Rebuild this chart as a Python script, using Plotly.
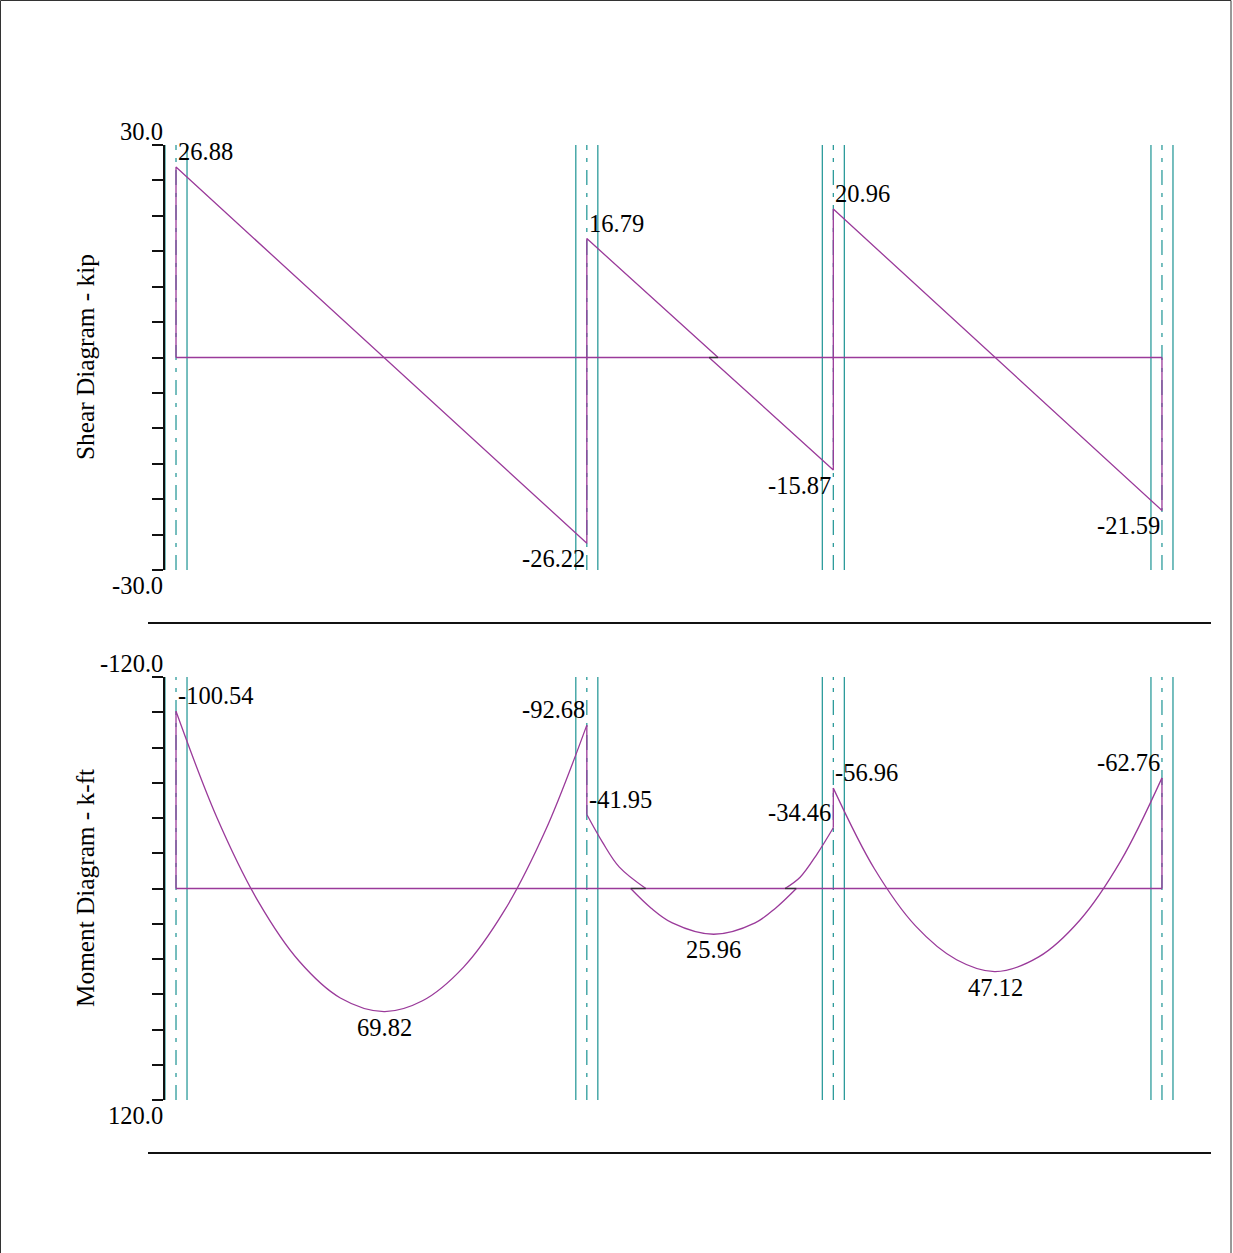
import plotly.graph_objects as go

# ---------------- data ----------------
support_ft = [0, 25, 40, 60]          # support centre lines (ft)
col_half_ft = 0.67                    # half column width (ft)

# shear (kip) at the ends of each span
shear_left = [26.88, 16.79, 20.96]
shear_right = [-26.22, -15.87, -21.59]
shear_zero_upper = [None, 32.99, None]   # where drawn upper part meets the baseline (span 2 kink)
shear_zero_lower = [None, 32.44, None]

# moment (k-ft) at the ends of each span and the span maxima
moment_left = [-100.54, -41.95, -56.96]
moment_right = [-92.68, -34.46, -62.76]
moment_max = [69.82, 25.96, 47.12]
moment_max_x = [12.66, 32.72, 49.85]

# moment curve
m1_x = [0, 2.5, 5, 7.5, 10, 12.66, 15, 17.5, 20, 22.5, 25]
m1_y = [-100.54, -40.0, 7.3, 41.3, 62.1, 69.82, 63.7, 44.6, 12.3, -33.3, -92.68]
m2a_x = [25, 25.95, 26.98, 28.59]
m2a_y = [-41.95, -26.3, -12.1, 0]
m2b_x = [27.67, 28.9, 30.2, 32.72, 35.24, 36.5, 37.75]
m2b_y = [0, 11.0, 19.5, 25.96, 19.5, 11.0, 0]
m2c_x = [37.06, 37.98, 39.02, 40]
m2c_y = [0, -6.4, -19.7, -34.46]
m3_x = [40, 42.5, 45, 47.5, 49.85, 52.5, 55, 57.5, 60]
m3_y = [-56.96, -11.2, 21.2, 40.4, 47.12, 38.8, 18.0, -15.8, -62.76]

shear_range = [-30, 30]
moment_range = [120, -120]
shear_ticks = ["30.0", "-30.0"]
moment_ticks = ["-120.0", "120.0"]

# ---------------- styling ----------------
W, H = 1233, 1253
PURPLE = "#9A3A9A"
TEAL = "#1B9393"
FONT = "Liberation Serif"
FS = 24.5
FS_TITLE = 25.3

def px_x(p):
    return p / W

def px_y(p):
    return 1 - p / H

fig = go.Figure()

line_p = dict(color=PURPLE, width=1.3)

# ---- shear diagram (x, y) ----
fig.add_trace(go.Scatter(x=[support_ft[0], support_ft[-1]], y=[0, 0], mode="lines",
                         line=line_p, xaxis="x", yaxis="y", hoverinfo="skip"))
sx, sy = [support_ft[0]], [0]
for i in range(3):
    a, b = support_ft[i], support_ft[i + 1]
    sx += [a]
    sy += [shear_left[i]]
    if shear_zero_upper[i] is not None:
        sx += [shear_zero_upper[i], None, shear_zero_lower[i]]
        sy += [0, None, 0]
    sx += [b]
    sy += [shear_right[i]]
sx += [support_ft[-1]]
sy += [0]
fig.add_trace(go.Scatter(x=sx, y=sy, mode="lines", line=line_p, xaxis="x", yaxis="y",
                         hoverinfo="skip", connectgaps=False))
fig.add_trace(go.Scatter(x=[shear_zero_lower[1], shear_zero_upper[1]], y=[0, 0], mode="lines",
                         line=dict(color="#333333", width=1.3), xaxis="x", yaxis="y", hoverinfo="skip"))

# ---- moment diagram (x2, y2) ----
fig.add_trace(go.Scatter(x=[support_ft[0], support_ft[-1]], y=[0, 0], mode="lines",
                         line=line_p, xaxis="x2", yaxis="y2", hoverinfo="skip"))
vx, vy = [], []
vx += [support_ft[0], support_ft[0], None]
vy += [0, moment_left[0], None]
for i in range(1, 3):
    vx += [support_ft[i], support_ft[i], None]
    vy += [moment_right[i - 1], moment_left[i], None]
vx += [support_ft[-1], support_ft[-1]]
vy += [moment_right[-1], 0]
fig.add_trace(go.Scatter(x=vx, y=vy, mode="lines", line=line_p, xaxis="x2", yaxis="y2",
                         hoverinfo="skip", connectgaps=False))
for xs, ys in [(m1_x, m1_y), (m2a_x, m2a_y), (m2b_x, m2b_y), (m2c_x, m2c_y), (m3_x, m3_y)]:
    fig.add_trace(go.Scatter(x=xs, y=ys, mode="lines",
                             line=dict(color=PURPLE, width=1.3, shape="spline", smoothing=1.0),
                             xaxis="x2", yaxis="y2", hoverinfo="skip"))
fig.add_trace(go.Scatter(x=[m2b_x[0], m2a_x[-1], None, m2c_x[0], m2b_x[-1]],
                         y=[0, 0, None, 0, 0], mode="lines",
                         line=dict(color="#333333", width=1.3), xaxis="x2", yaxis="y2",
                         hoverinfo="skip", connectgaps=False))

# ---- support lines ----
shapes = []
for xr, yr in [("x", "y domain"), ("x2", "y2 domain")]:
    for s in support_ft:
        for off, dash in [(-col_half_ft, "solid"), (0, "15px,8px,4px,8px"), (col_half_ft, "solid")]:
            shapes.append(dict(type="line", xref=xr, yref=yr, x0=s + off, x1=s + off, y0=0, y1=1,
                               line=dict(color=TEAL, width=1.2, dash=dash), layer="below"))

# separators
for yp in [623, 1153]:
    shapes.append(dict(type="line", xref="paper", yref="paper", x0=px_x(148), x1=px_x(1211),
                       y0=px_y(yp), y1=px_y(yp), line=dict(color="#111111", width=2)))
# frame
shapes.append(dict(type="rect", xref="paper", yref="paper", x0=px_x(0.5), x1=px_x(1231),
                   y0=-0.01, y1=px_y(0.5), line=dict(color="#333333", width=1)))

# ---- annotations ----
ann = []
tf = dict(family=FONT, size=FS, color="#000000")
tft = dict(family=FONT, size=FS_TITLE, color="#000000")

def lab(x, y, v, xa, ya, xr, yr):
    ann.append(dict(x=x, y=y, xref=xr, yref=yr, text=f"{v:.2f}", showarrow=False,
                    xanchor=xa, yanchor=ya, font=tf))

for i in range(3):
    lab(support_ft[i], shear_left[i], shear_left[i], "left", "bottom", "x", "y")
    lab(support_ft[i + 1], shear_right[i], shear_right[i], "right", "top", "x", "y")
    lab(support_ft[i], moment_left[i], moment_left[i], "left", "bottom", "x2", "y2")
    lab(support_ft[i + 1], moment_right[i], moment_right[i], "right", "bottom", "x2", "y2")
    lab(moment_max_x[i], moment_max[i], moment_max[i], "center", "top", "x2", "y2")

for (xr, yr, ticks) in [("x domain", "y domain", shear_ticks), ("x2 domain", "y2 domain", moment_ticks)]:
    ann.append(dict(x=0, y=1, xref=xr, yref=yr, text=ticks[0], showarrow=False,
                    xanchor="right", yanchor="middle", yshift=14, font=tf))
    ann.append(dict(x=0, y=0, xref=xr, yref=yr, text=ticks[1], showarrow=False,
                    xanchor="right", yanchor="middle", yshift=-15, font=tf))

ann.append(dict(x=px_x(85), y=px_y(357), xref="paper", yref="paper", text="Shear Diagram - kip",
                showarrow=False, textangle=-90, font=tft, xanchor="center", yanchor="middle"))
ann.append(dict(x=px_x(85), y=px_y(888), xref="paper", yref="paper", text="Moment Diagram - k-ft",
                showarrow=False, textangle=-90, font=tft, xanchor="center", yanchor="middle"))

# ---- axes ----
xdom = [px_x(165), px_x(1178.4)]
xcommon = dict(domain=xdom, range=[-0.67, 61.0], visible=False, showgrid=False, zeroline=False)
ycommon = dict(showline=True, linecolor="#111111", linewidth=1.5, ticks="outside", ticklen=11,
               tickcolor="#111111", tickwidth=1.5, showticklabels=False, showgrid=False,
               zeroline=False, tickmode="linear")

fig.update_layout(
    width=W, height=H, margin=dict(l=0, r=0, t=0, b=0),
    paper_bgcolor="white", plot_bgcolor="white", showlegend=False,
    xaxis=dict(**xcommon),
    xaxis2=dict(**xcommon, anchor="y2"),
    yaxis=dict(**ycommon, domain=[px_y(570), px_y(145)], range=shear_range, tick0=0, dtick=5, anchor="x"),
    yaxis2=dict(**ycommon, domain=[px_y(1100), px_y(677)], range=moment_range, tick0=0, dtick=20, anchor="x2"),
    shapes=shapes, annotations=ann,
)

fig.write_html("out.html", config={"displayModeBar": False},
               post_script="document.body.style.margin='0px';")
